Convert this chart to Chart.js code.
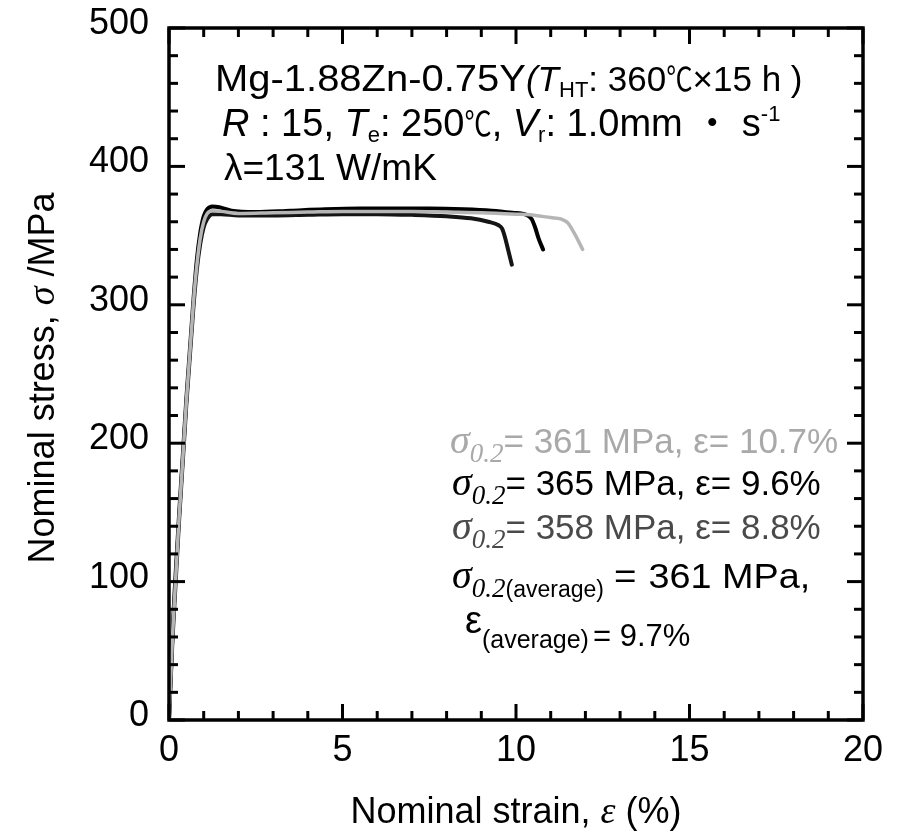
<!DOCTYPE html>
<html>
<head>
<meta charset="utf-8">
<script src="https://cdn.jsdelivr.net/npm/chart.js@4.4.1/dist/chart.umd.min.js"></script>
<style>
  html, body { margin: 0; padding: 0; background: #ffffff; }
  #wrap { width: 901px; height: 835px; position: relative; }
</style>
</head>
<body>
<div id="wrap"><canvas id="c" width="901" height="835"></canvas></div>
<script>
// ---------------- data ----------------
const xTicks = [0, 5, 10, 15, 20];
const yTicks = [0, 100, 200, 300, 400, 500];

// Specimen 1 (light grey): sigma0.2 = 361 MPa, e = 10.7 %
const strainGrey = [0, 0.1, 0.3, 0.5, 0.7, 0.8, 0.9, 1.0, 1.1, 1.25, 1.5, 2.0, 3.0, 4.0, 5.0, 6.0, 7.0, 8.0, 9.0, 10.0, 10.4, 11.0, 11.3, 11.5, 11.65, 11.8, 11.92];
const stressGrey = [0, 60, 150, 230, 300, 328, 348, 360, 366, 368, 367.5, 366, 366.5, 367, 367.5, 367.5, 367.5, 367, 366.5, 365.5, 365, 363, 362, 359, 353, 346, 340];

// Specimen 2 (black): sigma0.2 = 365 MPa, e = 9.6 %
const strainBlack = [0, 0.1, 0.3, 0.5, 0.7, 0.8, 0.9, 1.0, 1.1, 1.25, 1.45, 1.8, 2.5, 3.5, 4.5, 5.5, 6.5, 7.5, 8.5, 9.3, 9.9, 10.3, 10.45, 10.55, 10.65, 10.78];
const stressBlack = [0, 62, 152, 232, 302, 332, 352, 364, 369, 371, 370.5, 368, 367, 368, 369, 369.5, 369.5, 369.5, 369, 368, 366.5, 365, 362, 356, 348, 340];

// Specimen 3 (dark): sigma0.2 = 358 MPa, e = 8.8 %
const strainDark = [0, 0.1, 0.3, 0.5, 0.7, 0.8, 0.9, 1.0, 1.1, 1.25, 1.5, 2.0, 3.0, 4.0, 5.0, 6.0, 7.0, 8.0, 8.7, 9.2, 9.5, 9.6, 9.68, 9.78, 9.88];
const stressDark = [0, 58, 148, 228, 297, 325, 344, 356, 362, 365.5, 365.5, 364.5, 364.5, 365, 365.5, 365.5, 365, 364, 362.5, 360, 357.5, 355, 349, 339, 329];

const toPts = (xs, ys) => xs.map((x, i) => ({ x: x, y: ys[i] }));

// ---------------- helpers ----------------
const SANS = '"Liberation Sans", Arial, "Noto Sans CJK JP", sans-serif';
const SERIF = '"Liberation Serif", "Times New Roman", serif';
const CJK = '"Noto Sans CJK JP", "Liberation Sans", sans-serif';

function runsWidth(ctx, runs) {
  let w = 0;
  for (const r of runs) { ctx.font = r.f; w += ctx.measureText(r.t).width * (r.sx || 1) + (r.sp || 0); }
  return w;
}
function drawRuns(ctx, x, y, runs, color) {
  let cx = x;
  for (const r of runs) {
    ctx.font = r.f;
    ctx.fillStyle = r.c || color;
    const sx = r.sx || 1;
    ctx.save();
    ctx.translate(cx, y + (r.dy || 0));
    ctx.scale(sx, 1);
    ctx.fillText(r.t, 0, 0);
    ctx.restore();
    cx += ctx.measureText(r.t).width * sx + (r.sp || 0);
  }
}

const framePlugin = {
  id: 'framePlugin',
  afterDatasetsDraw(chart) {
    const ctx = chart.ctx;
    const a = chart.chartArea;
    const xs = chart.scales.x, ys = chart.scales.y;
    ctx.save();
    ctx.strokeStyle = '#000';
    ctx.lineCap = 'butt';
    ctx.lineWidth = 3;
    for (let v = xs.min; v <= xs.max + 1e-9; v += 1) {
      const px = xs.getPixelForValue(v);
      const len = (Math.round(v) % 5 === 0) ? 16 : 9;
      ctx.beginPath(); ctx.moveTo(px, a.bottom); ctx.lineTo(px, a.bottom - len); ctx.stroke();
      ctx.beginPath(); ctx.moveTo(px, a.top); ctx.lineTo(px, a.top + len); ctx.stroke();
    }
    for (let v = ys.min; v <= ys.max + 1e-9; v += 20) {
      const py = ys.getPixelForValue(v);
      const len = (Math.round(v) % 100 === 0) ? 16 : 9;
      ctx.beginPath(); ctx.moveTo(a.left, py); ctx.lineTo(a.left + len, py); ctx.stroke();
      ctx.beginPath(); ctx.moveTo(a.right, py); ctx.lineTo(a.right - len, py); ctx.stroke();
    }
    ctx.lineWidth = 3.5;
    ctx.strokeRect(a.left, a.top, a.right - a.left, a.bottom - a.top);
    ctx.restore();
  }
};

const textPlugin = {
  id: 'textPlugin',
  afterDraw(chart) {
    const ctx = chart.ctx;
    ctx.save();
    ctx.textBaseline = 'alphabetic';
    ctx.textAlign = 'left';

    // axis titles
    const yTitle = [
      { t: 'Nominal stress, ', f: '36px ' + SANS },
      { t: 'σ', f: 'italic 38px ' + SERIF },
      { t: ' /MPa', f: '36px ' + SANS }
    ];
    ctx.save();
    ctx.translate(54, 378);
    ctx.rotate(-Math.PI / 2);
    drawRuns(ctx, -runsWidth(ctx, yTitle) / 2, 0, yTitle, '#000');
    ctx.restore();

    const xTitle = [
      { t: 'Nominal strain, ', f: '36px ' + SANS },
      { t: 'ε', f: 'italic 38px ' + SERIF },
      { t: ' (%)', f: '36px ' + SANS }
    ];
    drawRuns(ctx, 516 - runsWidth(ctx, xTitle) / 2, 823, xTitle, '#000');

    // condition annotation (top)
    const s38 = '38px ' + SANS, i38 = 'italic 38px ' + SANS;
    const s35 = '35px ' + SANS, i35 = 'italic 35px ' + SANS, sub = '22px ' + SANS;
    drawRuns(ctx, 215, 91, [
      { t: 'Mg-1.88Zn-0.75Y', f: '37px ' + SANS, sx: 1.08 },
      { t: '(', f: i35 },
      { t: 'T', f: i35 },
      { t: 'HT', f: sub, dy: 6 },
      { t: ': 360', f: s35 },
      { t: '℃', f: '33px ' + CJK, sx: 0.8 },
      { t: '×15 h )', f: s35 }
    ], '#000');
    drawRuns(ctx, 222, 136, [
      { t: 'R', f: i38 },
      { t: ' : 15, ', f: s38 },
      { t: 'T', f: i38 },
      { t: 'e', f: sub, dy: 6 },
      { t: ': 250', f: s38 },
      { t: '℃', f: '34px ' + CJK, sx: 0.8 },
      { t: ', ', f: s38 },
      { t: 'V', f: i38 },
      { t: 'r', f: sub, dy: 6 },
      { t: ': 1.0mm ・ s', f: s38 },
      { t: '-1', f: sub, dy: -15 }
    ], '#000');
    drawRuns(ctx, 224, 180, [{ t: 'λ=131 W/mK', f: '37px ' + SANS }], '#000');

    // results annotation (bottom right)
    const sig = 'italic 40px ' + SERIF, s02 = 'italic 27px ' + SERIF;
    drawRuns(ctx, 450, 453, [
      { t: 'σ', f: sig }, { t: '0.2', f: s02, dy: 9 },
      { t: '= 361 MPa, ε= 10.7%', f: s35 }
    ], '#a9a9a9');
    drawRuns(ctx, 452, 495, [
      { t: 'σ', f: sig }, { t: '0.2', f: s02, dy: 9 },
      { t: '= 365 MPa, ε= 9.6%', f: s35 }
    ], '#000');
    drawRuns(ctx, 452, 539, [
      { t: 'σ', f: sig }, { t: '0.2', f: s02, dy: 9 },
      { t: '= 358 MPa, ε= 8.8%', f: s35 }
    ], '#4a4a4a');
    drawRuns(ctx, 452, 588, [
      { t: 'σ', f: sig }, { t: '0.2', f: s02, dy: 9 },
      { t: '(average)', f: '23px ' + SANS, dy: 9, sp: 10 },
      { t: '=', f: '35px ' + SANS, sx: 1.1, sp: 12 },
      { t: '361 MPa,', f: '35px ' + SANS, sx: 1.08 }
    ], '#000');
    drawRuns(ctx, 465, 633, [
      { t: 'ε', f: '38px ' + SANS },
      { t: '(average)', f: '25px ' + SANS, dy: 15, sp: 4 },
      { t: '= 9.7%', f: '31px ' + SANS, dy: 13 }
    ], '#000');
    ctx.restore();
  }
};

// ---------------- chart ----------------
const lineDs = (label, pts, color, width) => ({
  label: label,
  data: pts,
  borderColor: color,
  backgroundColor: color,
  borderWidth: width,
  pointRadius: 0,
  showLine: true,
  fill: false,
  cubicInterpolationMode: 'monotone',
  borderJoinStyle: 'round',
  borderCapStyle: 'round'
});

new Chart(document.getElementById('c'), {
  type: 'scatter',
  data: {
    datasets: [
      lineDs('σ0.2 = 361 MPa', toPts(strainGrey, stressGrey), '#b5b5b5', 3.5),
      lineDs('σ0.2 = 358 MPa', toPts(strainDark, stressDark), '#151515', 4),
      lineDs('σ0.2 = 365 MPa', toPts(strainBlack, stressBlack), '#000000', 4)
    ]
  },
  options: {
    responsive: false,
    animation: false,
    devicePixelRatio: 1,
    layout: { padding: { left: 0, right: 38, top: 28, bottom: 0 } },
    plugins: { legend: { display: false }, tooltip: { enabled: false } },
    scales: {
      x: {
        type: 'linear', min: 0, max: 20,
        afterBuildTicks: s => { s.ticks = xTicks.map(v => ({ value: v })); },
        afterFit: s => { s.height = 115; s.paddingLeft = 0; s.paddingRight = 0; },
        grid: { display: false, drawTicks: false },
        border: { display: false },
        ticks: { color: '#000', padding: 9, font: { family: SANS, size: 36 }, maxRotation: 0 },
        title: { display: false }
      },
      y: {
        type: 'linear', min: 0, max: 500,
        afterBuildTicks: s => { s.ticks = yTicks.map(v => ({ value: v })); },
        afterFit: s => { s.width = 169; s.paddingTop = 0; s.paddingBottom = 0; },
        grid: { display: false, drawTicks: false },
        border: { display: false },
        ticks: { color: '#000', padding: 20, labelOffset: -4, font: { family: SANS, size: 36 } },
        title: { display: false }
      }
    }
  },
  plugins: [framePlugin, textPlugin]
});
</script>
</body>
</html>
